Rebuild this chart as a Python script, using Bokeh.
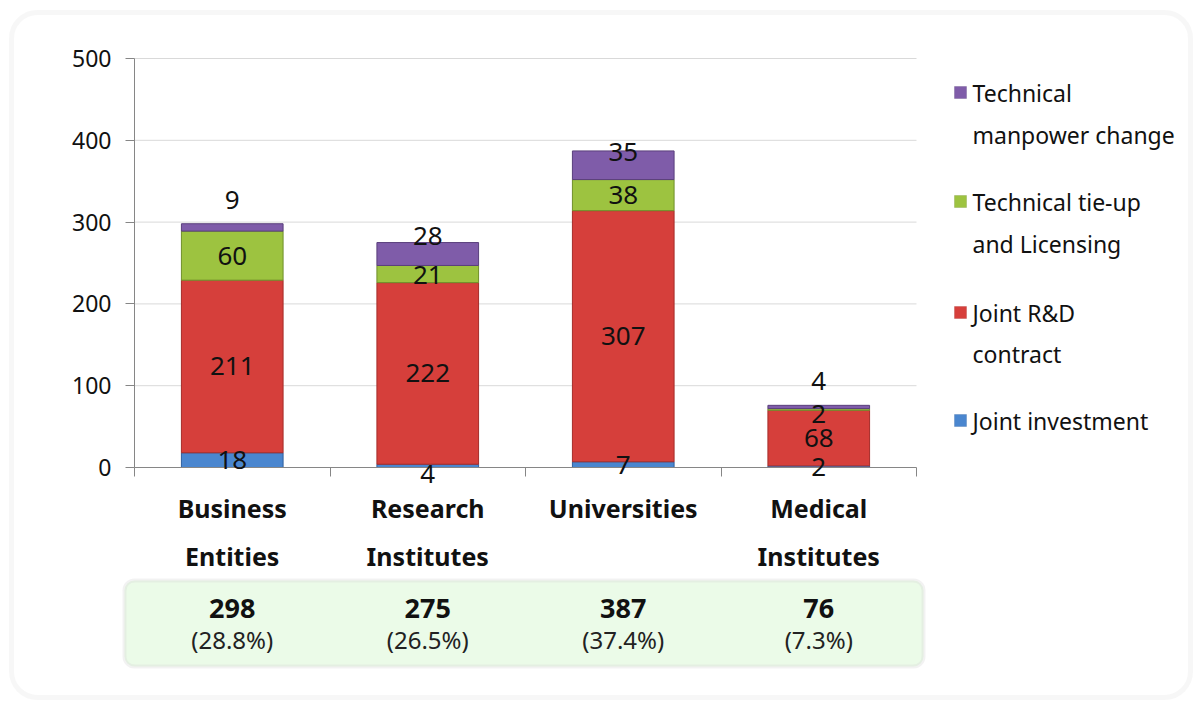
from bokeh.plotting import figure
from bokeh.models import (ColumnDataSource, Range1d, FixedTicker, LinearAxis,
                          LabelSet, Label, BoxAnnotation)
from bokeh.core.properties import value
from bokeh.embed import file_html
from bokeh.resources import INLINE

# ---------------- data ----------------
categories = ["Business Entities", "Research Institutes", "Universities", "Medical Institutes"]
series_names = ["Joint investment", "Joint R&D contract",
                "Technical tie-up and Licensing", "Technical manpower change"]
joint_investment = [18, 4, 7, 2]
joint_rd_contract = [211, 222, 307, 68]
tieup_licensing = [60, 21, 38, 2]
manpower_change = [9, 28, 35, 4]
totals = [298, 275, 387, 76]
shares = ["(28.8%)", "(26.5%)", "(37.4%)", "(7.3%)"]
y_ticks = [0, 100, 200, 300, 400, 500]
legend_lines = {
    "Technical manpower change": ["Technical", "manpower change"],
    "Technical tie-up and Licensing": ["Technical tie-up", "and Licensing"],
    "Joint R&D contract": ["Joint R&D", "contract"],
    "Joint investment": ["Joint investment"],
}

# ---------------- styles ----------------
FONT = "Noto Sans"
fills = ["#4a86cf", "#d63f3b", "#9dc340", "#7f5ca9"]
edges = ["#2f5f9e", "#a52c29", "#6f8f2a", "#5a3f7c"]
# per-series pixel nudges of the value labels (positive = up)
nudges = [[0, -8, 0, 0], [0, 0, 0, 0], [0, -1, 0, -5], [27, 18, 13, 26]]

W, H = 1194, 701
# plot area in canvas pixels
FL, FR, FT, FB = 134, 916, 58, 467
NC = len(categories)
YMAX = y_ticks[-1]
XU = (FR - FL) / NC
YU = (FB - FT) / YMAX


def xd(px):
    return (px - FL) / XU


def yd(py):
    return (FB - py) / YU


# category slot centres on a numeric category axis
xpos = [i + 0.5 for i, _ in enumerate(categories)]

p = figure(width=W, height=H, x_range=Range1d(xd(0), xd(W)), y_range=Range1d(yd(H), yd(0)),
           output_backend="svg", toolbar_location=None,
           x_axis_location=None, y_axis_location=None,
           min_border=0, min_border_left=0, min_border_right=0,
           min_border_top=0, min_border_bottom=0)
p.title.visible = False
p.outline_line_color = None
p.background_fill_color = "white"
p.border_fill_color = "white"
p.grid.visible = False

# ---------------- axes ----------------
ya = LinearAxis(fixed_location=0, bounds=(0, YMAX), ticker=FixedTicker(ticks=y_ticks),
                axis_line_color="#868686", major_tick_line_color="#868686",
                major_tick_out=9, major_tick_in=0, minor_tick_line_color=None,
                major_label_standoff=14, major_label_text_font=FONT,
                major_label_text_font_size="23px", major_label_text_color="#111111")
p.add_layout(ya, "left")
xa = LinearAxis(fixed_location=0, bounds=(0, NC), ticker=FixedTicker(ticks=list(range(NC + 1))),
                axis_line_color="#868686", major_tick_line_color="#868686",
                major_tick_out=9, major_tick_in=0, minor_tick_line_color=None,
                major_label_text_alpha=0, major_label_text_font_size="1px")
p.add_layout(xa, "below")

# horizontal gridlines at the y ticks (across the plot area only)
grid_y = y_ticks[1:]
p.segment(x0=[0] * len(grid_y), x1=[NC] * len(grid_y), y0=grid_y, y1=grid_y,
          line_color="#d9d9d9", line_width=1, level="underlay")

# ---------------- bars ----------------
keys = ["inv", "rd", "tie", "man"]
src = ColumnDataSource(dict(x=xpos, cat=categories, inv=joint_investment, rd=joint_rd_contract,
                            tie=tieup_licensing, man=manpower_change))
p.vbar_stack(keys, x="x", width=0.52, source=src, fill_color=fills, line_color=edges,
             line_width=1)

# ---------------- value labels ----------------
series_vals = [joint_investment, joint_rd_contract, tieup_licensing, manpower_change]
lx, ly, lt = [], [], []
base = [0] * NC
for s, vals in enumerate(series_vals):
    for i, v in enumerate(vals):
        lx.append(xpos[i])
        ly.append(base[i] + v / 2 + nudges[s][i] / YU)
        lt.append(str(v))
        base[i] += v
p.add_layout(LabelSet(x="x", y="y", text="t", source=ColumnDataSource(dict(x=lx, y=ly, t=lt)),
                      text_align="center", text_baseline="middle", text_font=value(FONT),
                      text_font_size="26px", text_color="#111111"))

# ---------------- category labels ----------------
line1 = [c.split(" ", 1)[0] for c in categories]
line2 = [c.split(" ", 1)[1] if " " in c else "" for c in categories]
cat_src = ColumnDataSource(dict(x=xpos, l1=line1, l2=line2,
                                y1=[yd(507)] * NC, y2=[yd(555)] * NC))
for col, ycol in (("l1", "y1"), ("l2", "y2")):
    p.add_layout(LabelSet(x="x", y=ycol, text=col, source=cat_src, text_align="center",
                          text_baseline="middle", text_font=value(FONT), text_font_size="25px",
                          text_font_style="bold", text_color="#111111"))

# ---------------- outer frame ----------------
p.add_layout(BoxAnnotation(left=xd(11), right=xd(1190), top=yd(12), bottom=yd(697),
                           fill_color=None, line_color="#e5e5e5", line_width=5,
                           border_radius=26, level="underlay"))

# ---------------- totals box ----------------
p.add_layout(BoxAnnotation(left=xd(124), right=xd(923), top=yd(580), bottom=yd(666),
                           fill_color="#ebfbe8", fill_alpha=1, line_color="#d4d4d4",
                           line_width=4, border_radius=10, level="underlay"))
tot_src = ColumnDataSource(dict(x=xpos, t=[str(t) for t in totals], s=shares,
                                y1=[yd(608)] * NC, y2=[yd(639)] * NC))
p.add_layout(LabelSet(x="x", y="y1", text="t", source=tot_src, text_align="center",
                      text_baseline="middle", text_font=value(FONT), text_font_size="27px",
                      text_font_style="bold", text_color="#111111"))
p.add_layout(LabelSet(x="x", y="y2", text="s", source=tot_src, text_align="center",
                      text_baseline="middle", text_font=value(FONT), text_font_size="24px",
                      text_color="#222222"))

# ---------------- legend ----------------
rows = [("Technical manpower change", 3, [92, 134]),
        ("Technical tie-up and Licensing", 2, [201, 243]),
        ("Joint R&D contract", 1, [312, 353]),
        ("Joint investment", 0, [420])]
for name, si, ys in rows:
    cy = ys[0]
    p.add_layout(BoxAnnotation(left=xd(954), right=xd(966), top=yd(cy - 6), bottom=yd(cy + 6),
                               fill_color=fills[si], fill_alpha=1, line_color=edges[si],
                               line_width=1))
    for txt, yy in zip(legend_lines[name], ys):
        p.add_layout(Label(x=xd(972), y=yd(yy), text=txt, text_align="left",
                           text_baseline="middle", text_font=FONT,
                           text_font_size="23px", text_color="#111111"))

open("out.html", "w").write(file_html(p, INLINE))
